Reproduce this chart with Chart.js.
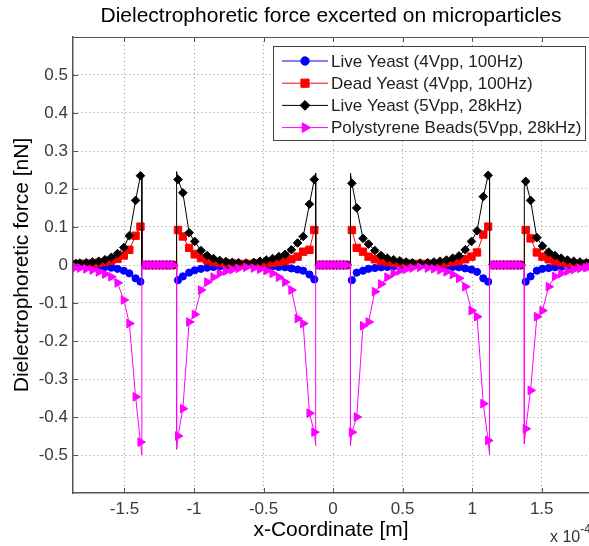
<!DOCTYPE html>
<html>
<head>
<meta charset="utf-8">
<title>Dielectrophoretic force</title>
<script src="https://cdn.jsdelivr.net/npm/chart.js@4.4.0/dist/chart.umd.min.js"></script>
<style>
  html, body { margin: 0; padding: 0; background: #ffffff; overflow: hidden; }
  #depChart { display: block; }
</style>
</head>
<body>
<canvas id="depChart" width="589" height="546"></canvas>
<script>
// x-Coordinate of the sample points (units of 1e-4 m)
const xCoord = [
    -1.85, -1.82, -1.775, -1.73, -1.685, -1.64, -1.595, -1.55, -1.505, -1.465, -1.42, -1.385,
    -1.35, -1.325, -1.3, -1.275, -1.25, -1.225, -1.2, -1.175, -1.15,
    -1.115, -1.08, -1.035, -0.995, -0.95, -0.905, -0.86, -0.815, -0.77, -0.725, -0.68,
    -0.625,
    -0.57, -0.525, -0.48, -0.435, -0.39, -0.345, -0.3, -0.255, -0.215, -0.17, -0.135,
    -0.1, -0.075, -0.05, -0.025, 0, 0.025, 0.05, 0.075, 0.1,
    0.135, 0.17, 0.215, 0.255, 0.3, 0.345, 0.39, 0.435, 0.48, 0.525, 0.57,
    0.625,
    0.68, 0.725, 0.77, 0.815, 0.86, 0.905, 0.95, 0.995, 1.035, 1.08, 1.115,
    1.15, 1.175, 1.2, 1.225, 1.25, 1.275, 1.3, 1.325, 1.35,
    1.385, 1.42, 1.465, 1.505, 1.55, 1.595, 1.64, 1.685, 1.73, 1.775, 1.82, 1.84
];

// electrode edges, where the force jumps to / from zero
const electrodeEdges = [-1.375, -1.125, -0.125, 0.125, 1.125, 1.375];

// Live Yeast (4Vpp, 100Hz)
const liveYeast4V = [
    -0.001, -0.002, -0.002, -0.003, -0.004, -0.005, -0.007, -0.01, -0.015, -0.022, -0.035, -0.044,
    0, 0, 0, 0, 0, 0, 0, 0, 0,
    -0.04, -0.03, -0.02, -0.014, -0.01, -0.007, -0.005, -0.004, -0.003, -0.002, -0.002,
    -0.001,
    -0.002, -0.002, -0.003, -0.004, -0.005, -0.006, -0.009, -0.012, -0.015, -0.025, -0.038,
    0, 0, 0, 0, 0, 0, 0, 0, 0,
    -0.04, -0.02, -0.015, -0.01, -0.008, -0.006, -0.005, -0.004, -0.003, -0.002, -0.002,
    -0.001,
    -0.002, -0.002, -0.003, -0.004, -0.005, -0.006, -0.009, -0.012, -0.018, -0.035, -0.044,
    0, 0, 0, 0, 0, 0, 0, 0, 0,
    -0.044, -0.03, -0.015, -0.01, -0.008, -0.006, -0.005, -0.004, -0.003, -0.002, -0.002, -0.001
];
const liveYeast4VEdge = [-0.045, -0.043, -0.042, -0.042, -0.045, -0.046];

// Dead Yeast (4Vpp, 100Hz)
const deadYeast4V = [
    0.002, 0.003, 0.003, 0.004, 0.006, 0.008, 0.011, 0.016, 0.025, 0.04, 0.077, 0.101,
    0, 0, 0, 0, 0, 0, 0, 0, 0,
    0.092, 0.075, 0.045, 0.028, 0.018, 0.012, 0.008, 0.006, 0.005, 0.004, 0.003,
    0.003,
    0.003, 0.004, 0.005, 0.006, 0.008, 0.01, 0.015, 0.022, 0.035, 0.04, 0.092,
    0, 0, 0, 0, 0, 0, 0, 0, 0,
    0.092, 0.045, 0.035, 0.022, 0.015, 0.01, 0.008, 0.006, 0.005, 0.004, 0.003,
    0.003,
    0.003, 0.003, 0.004, 0.006, 0.008, 0.01, 0.015, 0.022, 0.033, 0.08, 0.101,
    0, 0, 0, 0, 0, 0, 0, 0, 0,
    0.092, 0.07, 0.033, 0.022, 0.015, 0.01, 0.007, 0.005, 0.004, 0.003, 0.003, 0.002
];
const deadYeast4VEdge = [0.104, 0.1, 0.098, 0.098, 0.104, 0.096];

// Live Yeast (5Vpp, 28kHz)
const liveYeast5V = [
    0.004, 0.005, 0.006, 0.008, 0.01, 0.014, 0.02, 0.03, 0.046, 0.077, 0.17, 0.235,
    0, 0, 0, 0, 0, 0, 0, 0, 0,
    0.225, 0.19, 0.085, 0.062, 0.038, 0.025, 0.017, 0.012, 0.009, 0.007, 0.006,
    0.005,
    0.007, 0.01, 0.013, 0.017, 0.022, 0.028, 0.04, 0.058, 0.075, 0.16, 0.225,
    0, 0, 0, 0, 0, 0, 0, 0, 0,
    0.215, 0.15, 0.07, 0.055, 0.038, 0.025, 0.018, 0.014, 0.011, 0.008, 0.006,
    0.005,
    0.006, 0.008, 0.01, 0.013, 0.018, 0.024, 0.04, 0.062, 0.09, 0.18, 0.236,
    0, 0, 0, 0, 0, 0, 0, 0, 0,
    0.22, 0.17, 0.072, 0.05, 0.034, 0.025, 0.018, 0.013, 0.01, 0.008, 0.006, 0.004
];
const liveYeast5VEdge = [0.24, 0.246, 0.242, 0.242, 0.24, 0.224];

// Polystyrene Beads (5Vpp, 28kHz)
const beads5V = [
    -0.006, -0.008, -0.01, -0.013, -0.018, -0.024, -0.031, -0.047, -0.092, -0.154, -0.347, -0.466,
    0, 0, 0, 0, 0, 0, 0, 0, 0,
    -0.45, -0.378, -0.15, -0.13, -0.066, -0.045, -0.032, -0.022, -0.016, -0.012, -0.009,
    -0.006,
    -0.008, -0.011, -0.015, -0.022, -0.032, -0.045, -0.066, -0.141, -0.154, -0.39, -0.44,
    0, 0, 0, 0, 0, 0, 0, 0, 0,
    -0.44, -0.4, -0.16, -0.15, -0.07, -0.05, -0.032, -0.022, -0.015, -0.011, -0.008,
    -0.006,
    -0.008, -0.01, -0.013, -0.018, -0.025, -0.035, -0.057, -0.12, -0.136, -0.365, -0.462,
    0, 0, 0, 0, 0, 0, 0, 0, 0,
    -0.431, -0.33, -0.136, -0.12, -0.057, -0.03, -0.022, -0.016, -0.012, -0.009, -0.007, -0.005
];
const beads5VEdge = [-0.5, -0.485, -0.475, -0.475, -0.5, -0.47];

const xTicks = [-1.5, -1, -0.5, 0, 0.5, 1, 1.5];
const yTicks = [-0.5, -0.4, -0.3, -0.2, -0.1, 0, 0.1, 0.2, 0.3, 0.4, 0.5];

const seriesLabels = [
    'Live Yeast (4Vpp, 100Hz)',
    'Dead Yeast (4Vpp, 100Hz)',
    'Live Yeast (5Vpp, 28kHz)',
    'Polystyrene Beads(5Vpp, 28kHz)'
];

Chart.defaults.font.family = '"Liberation Sans", Arial, Helvetica, sans-serif';

// Ghép điểm dữ liệu với các bước nhảy ở mép điện cực (không vẽ marker ở đó)
function buildPoints(values, edgeValues) {
    const pts = [];
    let e = 0;
    for (let i = 0; i < xCoord.length; i++) {
        while (e < electrodeEdges.length && electrodeEdges[e] < xCoord[i]) {
            const ex = electrodeEdges[e];
            if (e % 2 === 0) {
                pts.push({ x: ex, y: edgeValues[e], edge: true });
                pts.push({ x: ex, y: 0, edge: true });
            } else {
                pts.push({ x: ex, y: 0, edge: true });
                pts.push({ x: ex, y: edgeValues[e], edge: true });
            }
            e++;
        }
        pts.push({ x: xCoord[i], y: values[i] });
    }
    return pts;
}

const seriesStyle = [
    { color: '#0000ff', pointStyle: 'circle', radius: 3.6, rotation: 0 },
    { color: '#ff0000', pointStyle: 'rect', radius: 5.2, rotation: 0 },
    { color: '#000000', pointStyle: 'rectRot', radius: 4.3, rotation: 0 },
    { color: '#ff00ff', pointStyle: 'triangle', radius: 5, rotation: 90 }
];
const seriesValues = [liveYeast4V, deadYeast4V, liveYeast5V, beads5V];
const seriesEdges = [liveYeast4VEdge, deadYeast4VEdge, liveYeast5VEdge, beads5VEdge];

const datasets = seriesLabels.map((label, i) => {
    const s = seriesStyle[i];
    return {
        label: label,
        data: buildPoints(seriesValues[i], seriesEdges[i]),
        showLine: true,
        borderColor: s.color,
        backgroundColor: s.color,
        borderWidth: 1,
        tension: 0,
        pointStyle: s.pointStyle,
        pointRotation: s.rotation,
        pointBackgroundColor: s.color,
        pointBorderColor: s.color,
        pointBorderWidth: 1,
        pointRadius: ctx => (ctx.raw && ctx.raw.edge) ? 0 : s.radius,
        pointHoverRadius: ctx => (ctx.raw && ctx.raw.edge) ? 0 : s.radius,
        order: seriesLabels.length - i   // magenta drawn last, on top
    };
});

// khung trục kiểu MATLAB: viền trên, vạch chia hướng vào trong, nhãn x 10^-4
const axesFrame = {
    id: 'axesFrame',
    afterDraw(chart) {
        const { ctx, chartArea } = chart;
        const xs = chart.scales.x, ys = chart.scales.y;
        ctx.save();
        ctx.strokeStyle = '#555555';
        ctx.lineWidth = 1;
        ctx.beginPath();
        ctx.moveTo(chartArea.left, chartArea.top + 0.5);
        ctx.lineTo(chartArea.right, chartArea.top + 0.5);
        xTicks.forEach(v => {
            const px = Math.round(xs.getPixelForValue(v)) + 0.5;
            ctx.moveTo(px, chartArea.bottom);
            ctx.lineTo(px, chartArea.bottom - 5);
            ctx.moveTo(px, chartArea.top);
            ctx.lineTo(px, chartArea.top + 5);
        });
        yTicks.forEach(v => {
            const py = Math.round(ys.getPixelForValue(v)) + 0.5;
            ctx.moveTo(chartArea.left, py);
            ctx.lineTo(chartArea.left + 5, py);
        });
        ctx.stroke();

        // exponent label
        ctx.fillStyle = '#333333';
        ctx.textBaseline = 'alphabetic';
        ctx.textAlign = 'left';
        ctx.font = '16px "Liberation Sans", Arial, sans-serif';
        ctx.fillText('x 10', 550, 542);
        const w = ctx.measureText('x 10').width;
        ctx.font = '12px "Liberation Sans", Arial, sans-serif';
        ctx.fillText('-4', 550 + w, 533);
        ctx.restore();
    }
};

// chú thích có khung, nằm trong vùng biểu đồ (góc trên bên phải)
const boxLegend = {
    id: 'boxLegend',
    afterDraw(chart) {
        const ctx = chart.ctx;
        const left = 273, top = 46, width = 312, height = 94;
        const rowGap = 22.2, firstRow = 61;
        ctx.save();
        ctx.fillStyle = '#ffffff';
        ctx.fillRect(left, top, width, height);
        ctx.strokeStyle = '#444444';
        ctx.lineWidth = 1;
        ctx.strokeRect(left + 0.5, top + 0.5, width, height);
        seriesLabels.forEach((label, i) => {
            const s = seriesStyle[i];
            const y = firstRow + i * rowGap;
            ctx.strokeStyle = s.color;
            ctx.fillStyle = s.color;
            ctx.lineWidth = 1;
            ctx.beginPath();
            ctx.moveTo(282, y);
            ctx.lineTo(328, y);
            ctx.stroke();
            Chart.helpers.drawPoint(ctx, {
                pointStyle: s.pointStyle,
                rotation: s.rotation,
                radius: s.radius + 0.6,
                borderWidth: 1
            }, 305, y);
            ctx.fillStyle = '#222222';
            ctx.font = '17px "Liberation Sans", Arial, sans-serif';
            ctx.textAlign = 'left';
            ctx.textBaseline = 'middle';
            ctx.fillText(label, 331, y + 1);
        });
        ctx.restore();
    }
};

const ctxDep = document.getElementById('depChart').getContext('2d');
new Chart(ctxDep, {
    type: 'scatter',
    data: { datasets: datasets },
    plugins: [axesFrame, boxLegend],
    options: {
        responsive: false,
        animation: false,
        layout: { autoPadding: false, padding: { left: 0, right: 0, top: 0, bottom: 0 } },
        plugins: {
            legend: { display: false },
            tooltip: { enabled: false },
            title: {
                display: true,
                fullSize: false,
                text: 'Dielectrophoretic force excerted on microparticles',
                color: '#000000',
                font: { size: 21, weight: 'normal', lineHeight: 1.2 },
                padding: { top: 4, bottom: 7.8 }
            }
        },
        scales: {
            x: {
                type: 'linear',
                min: -1.87,
                max: 1.84,
                afterBuildTicks: scale => { scale.ticks = xTicks.map(v => ({ value: v })); },
                afterFit: scale => {
                    scale.height = 53;
                    scale.paddingLeft = 0;
                    scale.paddingRight = 0;
                },
                ticks: {
                    color: '#3a3a3a',
                    font: { size: 17 },
                    padding: 6,
                    maxRotation: 0,
                    callback: v => String(v)
                },
                grid: { color: '#9a9a9a', lineWidth: 1, drawTicks: false },
                border: { display: true, color: '#555555', width: 1.5, dash: [1, 3] },
                title: {
                    display: true,
                    text: 'x-Coordinate [m]',
                    color: '#000000',
                    font: { size: 21, lineHeight: 1.2 },
                    padding: { top: 0, bottom: 3.4 }
                }
            },
            y: {
                type: 'linear',
                min: -0.6,
                max: 0.6,
                afterBuildTicks: scale => { scale.ticks = yTicks.map(v => ({ value: v })); },
                afterFit: scale => {
                    scale.width = 73;
                    scale.paddingTop = 0;
                    scale.paddingBottom = 0;
                },
                ticks: {
                    color: '#3a3a3a',
                    font: { size: 17 },
                    padding: 5,
                    callback: v => String(Math.round(v * 10) / 10)
                },
                grid: { color: '#9a9a9a', lineWidth: 1, drawTicks: false },
                border: { display: true, color: '#555555', width: 1.5, dash: [1, 3] },
                title: {
                    display: true,
                    text: 'Dielectrophoretic force [nN]',
                    color: '#000000',
                    font: { size: 21, lineHeight: 1.2 },
                    padding: { top: 9.4, bottom: 0 }
                }
            }
        }
    }
});
</script>
</body>
</html>
